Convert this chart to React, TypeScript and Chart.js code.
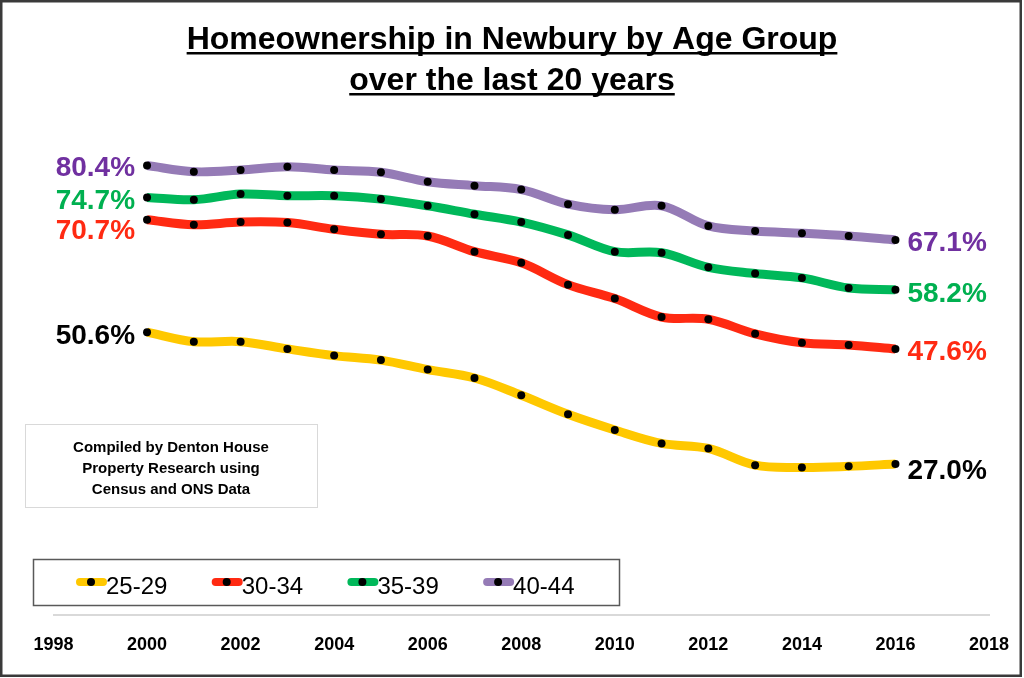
import { useEffect, useRef } from "react";
import { Chart, registerables } from "chart.js";

Chart.register(...registerables);

// years with data
const years = [2000, 2001, 2002, 2003, 2004, 2005, 2006, 2007, 2008, 2009, 2010, 2011, 2012, 2013, 2014, 2015, 2016];

const age2529 = [50.6, 48.9, 48.9, 47.6, 46.4, 45.6, 43.9, 42.4, 39.3, 35.9, 33.1, 30.7, 29.8, 26.8, 26.4, 26.6, 27.0];
const age3034 = [70.7, 69.8, 70.3, 70.2, 69.0, 68.1, 67.8, 65.0, 63.0, 59.1, 56.6, 53.3, 52.9, 50.3, 48.7, 48.3, 47.6];
const age3539 = [74.7, 74.3, 75.3, 75.0, 75.0, 74.4, 73.2, 71.7, 70.3, 68.0, 65.0, 64.8, 62.2, 61.1, 60.3, 58.5, 58.2];
const age4044 = [80.4, 79.3, 79.6, 80.2, 79.6, 79.2, 77.5, 76.8, 76.1, 73.5, 72.5, 73.2, 69.6, 68.7, 68.3, 67.8, 67.1];

const seriesNames = ["25-29", "30-34", "35-39", "40-44"];
const xTicks = [1998, 2000, 2002, 2004, 2006, 2008, 2010, 2012, 2014, 2016, 2018];

const titleLines = ["Homeownership in Newbury by Age Group", "over the last 20 years"];
const noteLines = ["Compiled by Denton House", "Property Research using", "Census and ONS Data"];

const FONT = '"Liberation Sans", Arial, sans-serif';
const lineColors = ["#FFC800", "#FF2A12", "#00B85A", "#957BB6"];
const labelColors = ["#000000", "#FF2A12", "#00B050", "#7030A0"];
// small vertical nudges for the end labels (start, end)
const startDy = [4, 11, 4, 3];
const endDy = [7, 3, 5, 3];

const overlay = {
  id: "overlay",
  beforeDraw(chart: Chart) {
    const ctx = chart.ctx;
    ctx.save();
    ctx.fillStyle = "#ffffff";
    ctx.fillRect(0, 0, chart.width, chart.height);
    ctx.restore();
  },
  afterDraw(chart: Chart) {
    const ctx = chart.ctx;
    ctx.save();

    // outer frame
    ctx.strokeStyle = "#3a3a3a";
    ctx.lineWidth = 2.5;
    ctx.strokeRect(1.25, 1.25, 1019.5, 674.5);

    // title, underlined
    ctx.fillStyle = "#000";
    ctx.font = `bold 32px ${FONT}`;
    ctx.textAlign = "center";
    ctx.textBaseline = "alphabetic";
    titleLines.forEach((t, i) => {
      const y = 49 + i * 41;
      ctx.fillText(t, 512, y);
      const w = ctx.measureText(t).width;
      ctx.fillRect(512 - w / 2, y + 3, w, 2.5);
    });

    // start / end value labels
    ctx.font = `bold 28px ${FONT}`;
    ctx.textBaseline = "middle";
    chart.data.datasets.forEach((ds, i) => {
      const meta = chart.getDatasetMeta(i);
      const pts = meta.data;
      const vals = ds.data as { x: number; y: number }[];
      const first = pts[0];
      const last = pts[pts.length - 1];
      ctx.fillStyle = labelColors[i];
      ctx.textAlign = "right";
      ctx.fillText(vals[0].y.toFixed(1) + "%", first.x - 12, first.y + startDy[i]);
      ctx.textAlign = "left";
      ctx.fillText(vals[vals.length - 1].y.toFixed(1) + "%", last.x + 12, last.y + endDy[i]);
    });

    // note box
    ctx.strokeStyle = "#d9d9d9";
    ctx.lineWidth = 1;
    ctx.strokeRect(25.5, 424.5, 292, 83);
    ctx.fillStyle = "#000";
    ctx.font = `bold 15px ${FONT}`;
    ctx.textAlign = "center";
    ctx.textBaseline = "alphabetic";
    noteLines.forEach((t, i) => ctx.fillText(t, 171, 451.5 + i * 21));

    // legend
    ctx.strokeStyle = "#595959";
    ctx.lineWidth = 1.5;
    ctx.strokeRect(33.5, 559.5, 586, 46);
    ctx.font = `24px ${FONT}`;
    ctx.textAlign = "left";
    seriesNames.forEach((name, i) => {
      const x0 = 76 + i * 135.7;
      ctx.strokeStyle = lineColors[i];
      ctx.lineWidth = 8;
      ctx.lineCap = "round";
      ctx.beginPath();
      ctx.moveTo(x0 + 4, 582);
      ctx.lineTo(x0 + 27, 582);
      ctx.stroke();
      ctx.fillStyle = "#000";
      ctx.beginPath();
      ctx.arc(x0 + 15, 582, 4, 0, Math.PI * 2);
      ctx.fill();
      ctx.fillText(name, x0 + 30, 594);
    });

    ctx.restore();
  },
};

export default function App() {
  const ref = useRef<HTMLCanvasElement>(null);

  useEffect(() => {
    document.body.style.margin = "0";
    if (!ref.current) return;

    const allSeries = [age2529, age3034, age3539, age4044];

    const chart = new Chart(ref.current, {
      type: "line",
      data: {
        datasets: allSeries.map((vals, i) => ({
          label: seriesNames[i],
          data: years.map((y, j) => ({ x: y, y: vals[j] })),
          borderColor: lineColors[i],
          backgroundColor: lineColors[i],
          borderWidth: 9,
          tension: 0.35,
          fill: false,
          pointRadius: 4,
          pointBorderWidth: 0,
          pointBackgroundColor: "#000",
          clip: false,
        })) as never,
      },
      options: {
        animation: false,
        responsive: true,
        maintainAspectRatio: false,
        layout: { padding: { left: 53.5, right: 35, top: 56, bottom: 0 } },
        plugins: {
          legend: { display: false },
          tooltip: { enabled: false },
        },
        scales: {
          x: {
            type: "linear",
            min: 1998,
            max: 2018,
            afterBuildTicks: (s) => {
              s.ticks = xTicks.map((v) => ({ value: v }));
            },
            afterFit: (s) => {
              s.height = 63;
              s.paddingLeft = 0;
              s.paddingRight = 0;
            },
            ticks: {
              color: "#000",
              font: { family: FONT, size: 18, weight: "bold" },
              padding: 19,
              maxRotation: 0,
              autoSkip: false,
              callback: (v) => String(v),
            },
            grid: { display: false, drawTicks: false },
            border: { display: true, color: "#d9d9d9", width: 2 },
          },
          y: {
            display: false,
            min: 0,
            max: 100,
          },
        },
      },
      plugins: [overlay],
    });

    return () => chart.destroy();
  }, []);

  return (
    <div style={{ width: 1024, height: 678, position: "relative" }}>
      <canvas ref={ref} />
    </div>
  );
}
